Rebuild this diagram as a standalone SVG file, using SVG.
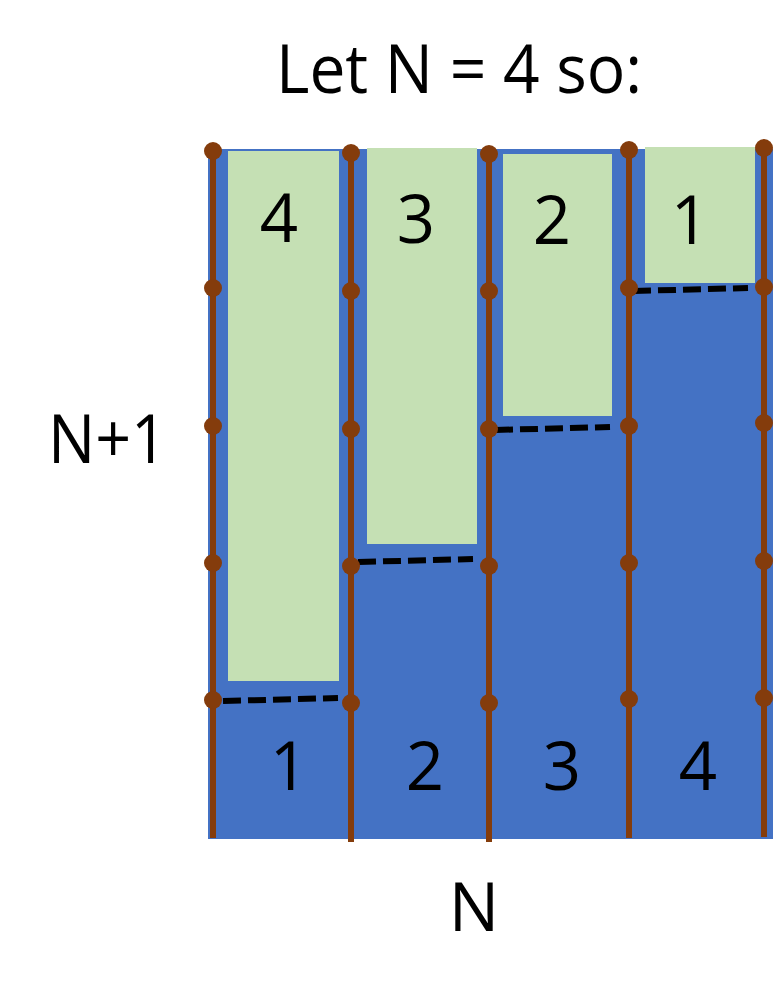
<svg xmlns="http://www.w3.org/2000/svg" width="773" height="997" viewBox="0 0 773 997">
<style>
.t{font-family:"Open Sans","Liberation Sans",sans-serif;font-size:67px;fill:#000}
.c{text-anchor:middle}
.g{fill:#C5E0B4}
.r{stroke:#843C0C;stroke-width:6;fill:none}
.d{fill:#843C0C}
.dash{stroke:#000;stroke-width:6;stroke-dasharray:18 7;fill:none}
</style>
<rect width="773" height="997" fill="#fff"/>
<g id="board">
<rect x="208" y="149" width="565" height="690" fill="#4472C4"/>
</g>
<g id="col1">
<rect class="g" x="228" y="151" width="111" height="530"/>
<text class="t c" x="279" y="242">4</text>
<text class="t c" x="289" y="790">1</text>
</g>
<g id="col2">
<rect class="g" x="367" y="148" width="110" height="396"/>
<text class="t c" x="416" y="243">3</text>
<text class="t c" x="425" y="790">2</text>
</g>
<g id="col3">
<rect class="g" x="503" y="154" width="109" height="262"/>
<text class="t c" x="552" y="244">2</text>
<text class="t c" x="562" y="790">3</text>
</g>
<g id="col4">
<rect class="g" x="645" y="147" width="110" height="136"/>
<text class="t c" x="690" y="244">1</text>
<text class="t c" x="698" y="790">4</text>
</g>
<g id="connectors">
<line class="r" x1="213" y1="151" x2="213" y2="838"/>
<line class="r" x1="351" y1="153" x2="351" y2="842"/>
<line class="r" x1="489" y1="154" x2="489" y2="842"/>
<line class="r" x1="629" y1="150" x2="629" y2="838"/>
<line class="r" x1="764" y1="148" x2="764" y2="837"/>
<line class="dash" x1="223" y1="701" x2="338" y2="698"/>
<line class="dash" x1="358" y1="562" x2="473" y2="559"/>
<line class="dash" x1="495" y1="430" x2="610" y2="427"/>
<line class="dash" x1="633" y1="291" x2="748" y2="288"/>
</g>
<g id="dots">
<circle class="d" cx="213" cy="151" r="9"/><circle class="d" cx="213" cy="288" r="9"/><circle class="d" cx="213" cy="426" r="9"/><circle class="d" cx="213" cy="563" r="9"/><circle class="d" cx="213" cy="700" r="9"/>
<circle class="d" cx="351" cy="153" r="9"/><circle class="d" cx="351" cy="291" r="9"/><circle class="d" cx="351" cy="429" r="9"/><circle class="d" cx="351" cy="566" r="9"/><circle class="d" cx="351" cy="703" r="9"/>
<circle class="d" cx="489" cy="154" r="9"/><circle class="d" cx="489" cy="291" r="9"/><circle class="d" cx="489" cy="429" r="9"/><circle class="d" cx="489" cy="566" r="9"/><circle class="d" cx="489" cy="703" r="9"/>
<circle class="d" cx="629" cy="150" r="9"/><circle class="d" cx="629" cy="288" r="9"/><circle class="d" cx="629" cy="426" r="9"/><circle class="d" cx="629" cy="563" r="9"/><circle class="d" cx="629" cy="699" r="9"/>
<circle class="d" cx="764" cy="148" r="9"/><circle class="d" cx="764" cy="287" r="9"/><circle class="d" cx="764" cy="423" r="9"/><circle class="d" cx="764" cy="561" r="9"/><circle class="d" cx="764" cy="698" r="9"/>
</g>
<g id="labels">
<text class="t" x="276" y="93" textLength="366" lengthAdjust="spacingAndGlyphs">Let N = 4 so:</text>
<text class="t" x="48" y="463" textLength="119" lengthAdjust="spacingAndGlyphs">N+1</text>
<text class="t c" x="474" y="931">N</text>
</g>
</svg>
